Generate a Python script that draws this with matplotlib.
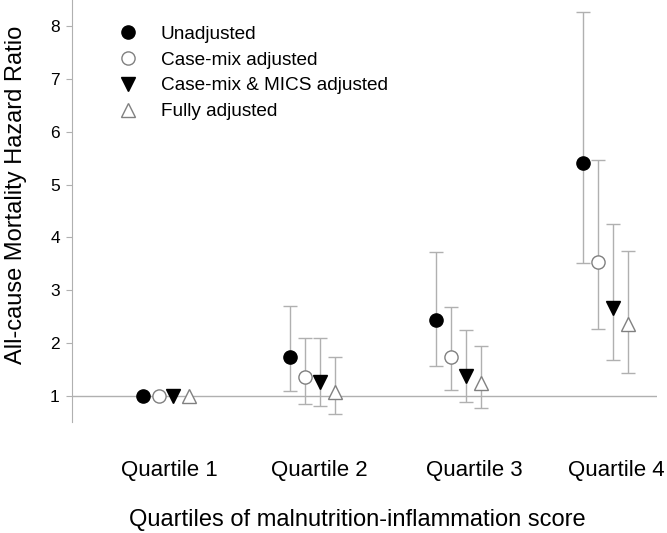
import matplotlib.pyplot as plt
import numpy as np

plt.rcParams['font.family'] = ['Liberation Sans', 'DejaVu Sans']

# Hazard ratios per quartile, with 95% CI
quartiles = ['Quartile 1', 'Quartile 2', 'Quartile 3', 'Quartile 4']
models = ['Unadjusted', 'Case-mix adjusted', 'Case-mix & MICS adjusted', 'Fully adjusted']

hr_unadj = [1.0, 1.74, 2.43, 5.42]
lo_unadj = [1.0, 1.09, 1.56, 3.52]
hi_unadj = [1.0, 2.70, 3.73, 8.27]

hr_casemix = [1.0, 1.36, 1.74, 3.53]
lo_casemix = [1.0, 0.85, 1.10, 2.26]
hi_casemix = [1.0, 2.10, 2.68, 5.46]

hr_mics = [1.0, 1.27, 1.38, 2.66]
lo_mics = [1.0, 0.81, 0.89, 1.68]
hi_mics = [1.0, 2.09, 2.24, 4.26]

hr_full = [1.0, 1.08, 1.24, 2.36]
lo_full = [1.0, 0.66, 0.76, 1.44]
hi_full = [1.0, 1.73, 1.94, 3.75]

series = [
    (hr_unadj, lo_unadj, hi_unadj),
    (hr_casemix, lo_casemix, hi_casemix),
    (hr_mics, lo_mics, hi_mics),
    (hr_full, lo_full, hi_full),
]
styles = [
    dict(marker='o', mfc='black', mec='black', ms=9.5),
    dict(marker='o', mfc='white', mec='#808080', ms=9.5),
    dict(marker='v', mfc='black', mec='black', ms=10),
    dict(marker='^', mfc='white', mec='#808080', ms=10),
]
offsets = [-0.154, -0.051, 0.051, 0.154]

fig = plt.figure(figsize=(6.67, 5.33), dpi=100)
ax = fig.add_axes([0.1085, 0.208, 0.8765, 0.792])

x = np.arange(1, len(quartiles) + 1)
ax.axhline(1, color='#b0b0b0', lw=1, zorder=1)

handles = []
for (hr, lo, hi), st, off, name in zip(series, styles, offsets, models):
    hr = np.array(hr)
    err = [hr - np.array(lo), np.array(hi) - hr]
    has_ci = np.array(hi) > np.array(lo)
    ax.errorbar(x[has_ci] + off, hr[has_ci],
                yerr=[err[0][has_ci], err[1][has_ci]],
                fmt='none', ecolor='#b0b0b0', elinewidth=1, capsize=5, capthick=1, zorder=2)
    h, = ax.plot(x + off, hr, linestyle='none', label=name, zorder=3, **st)
    handles.append(h)

ax.set_xlim(0.36, 4.355)
ax.set_ylim(0.5, 8.5)
ax.set_yticks(range(1, 9))
label_shift = [0.025, 0.045, 0.105, 0.08]
ax.set_xticks(x + np.array(label_shift))
ax.set_xticklabels(quartiles, fontsize=16)
ax.tick_params(axis='x', length=0, pad=27.5)
ax.tick_params(axis='y', length=4, color='#b0b0b0', labelsize=12.5, pad=5)

for s in ['top', 'right', 'bottom']:
    ax.spines[s].set_visible(False)
ax.spines['left'].set_color('#b0b0b0')

ax.set_ylabel('All-cause Mortality Hazard Ratio', fontsize=17)
ax.yaxis.set_label_coords(-0.0775, 0.538)
ax.set_xlabel('Quartiles of malnutrition-inflammation score', fontsize=17, va='baseline')
ax.xaxis.set_label_coords(0.487, -0.246)

ax.legend(handles=handles, loc='upper left', bbox_to_anchor=(0.062, 0.958),
          frameon=False, fontsize=13.7, labelspacing=0.45, handletextpad=1.15,
          handlelength=1.2, borderaxespad=0)

fig.savefig('out.png', dpi=100)
